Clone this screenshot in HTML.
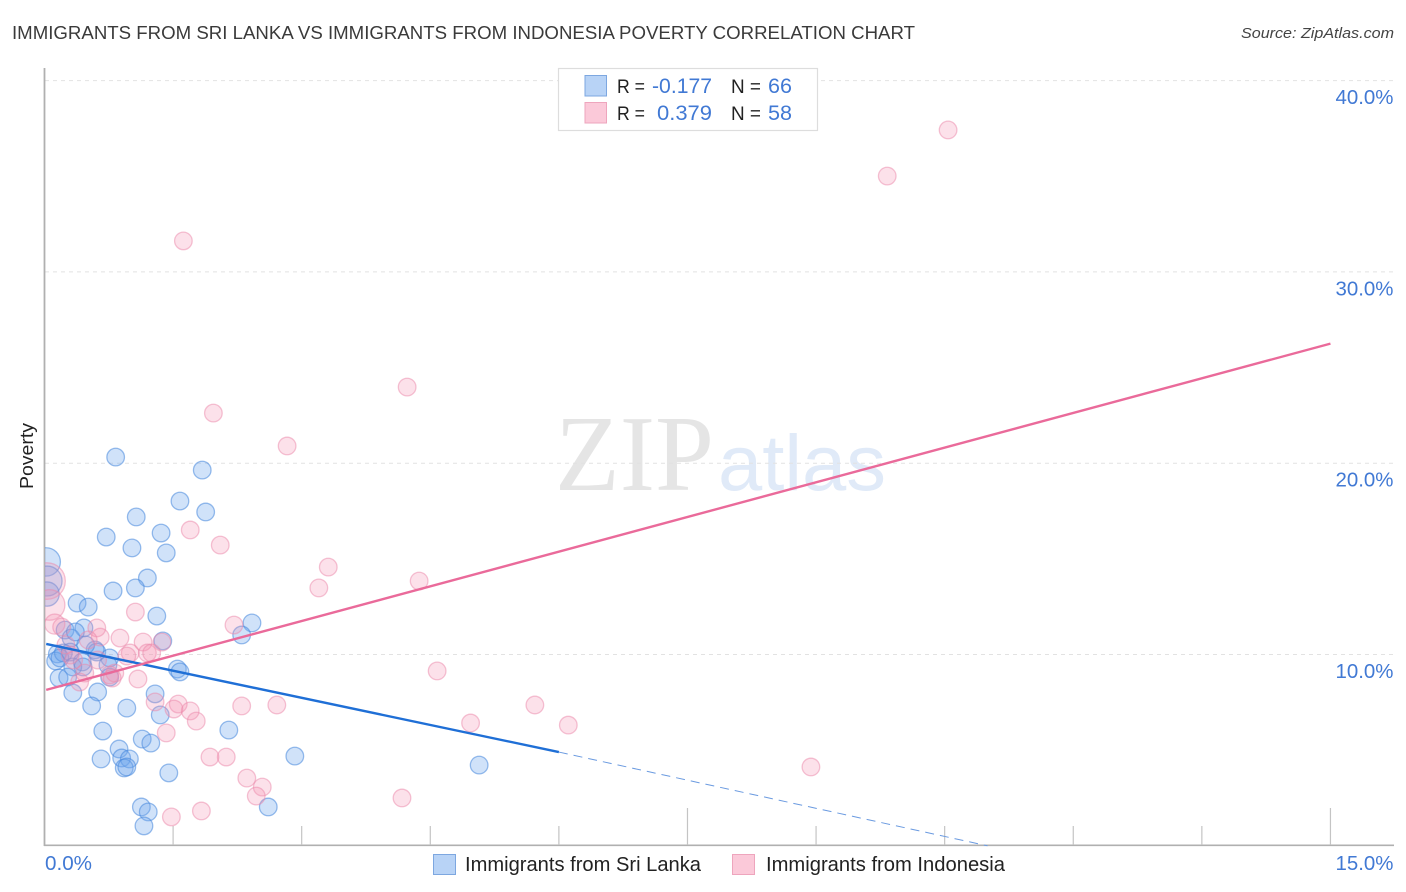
<!DOCTYPE html>
<html lang="en">
<head>
<meta charset="utf-8">
<title>Immigrants from Sri Lanka vs Immigrants from Indonesia Poverty Correlation Chart</title>
<style>
html,body{margin:0;padding:0;background:#fff;width:1406px;height:892px;overflow:hidden}
svg{display:block;font-family:"Liberation Sans",sans-serif}
</style>
</head>
<body>
<svg id="chart" width="1406" height="892" viewBox="0 0 1406 892" xmlns="http://www.w3.org/2000/svg">
  <defs>
    <clipPath id="plot-clip"><rect x="45" y="60" width="1350" height="786"></rect></clipPath>
  </defs>
  <text x="12" y="39" font-size="18" fill="#3a3a3a" textLength="903" lengthAdjust="spacingAndGlyphs">IMMIGRANTS FROM SRI LANKA VS IMMIGRANTS FROM INDONESIA POVERTY CORRELATION CHART</text>
  <text x="1394" y="38" font-size="15" font-style="italic" fill="#444" text-anchor="end" textLength="153" lengthAdjust="spacingAndGlyphs">Source: ZipAtlas.com</text>

  <g>
    <text x="555" y="490" font-family="'Liberation Serif',serif" font-size="108" fill="#e5e5e5" textLength="159" lengthAdjust="spacingAndGlyphs">ZIP</text>
    <text x="718" y="490" font-size="79" fill="#e0eaf8" textLength="168" lengthAdjust="spacingAndGlyphs">atlas</text>
  </g>

  <g id="grid"></g>
  <g id="axes"></g>
  <g id="marks" clip-path="url(#plot-clip)"></g>
  <g id="trends"></g>

  <text transform="translate(33,456) rotate(-90)" font-size="18" fill="#222" text-anchor="middle" textLength="66" lengthAdjust="spacingAndGlyphs">Poverty</text>

  <g>
    <rect x="558.5" y="68.5" width="259" height="62" fill="#fff" stroke="#ddd" stroke-width="1.2"></rect>
    <rect x="585" y="75.5" width="21.5" height="20.5" fill="#b8d3f6" stroke="#7da7e0" stroke-width="1"></rect>
    <rect x="585" y="102.5" width="21.5" height="20.5" fill="#fbc9d9" stroke="#eea5bd" stroke-width="1"></rect>
    <text x="617" y="93" font-size="19" fill="#222" textLength="28" lengthAdjust="spacingAndGlyphs">R =</text>
    <text x="652" y="93" font-size="21" fill="#4179d4" textLength="60" lengthAdjust="spacingAndGlyphs">-0.177</text>
    <text x="731" y="93" font-size="19" fill="#222" textLength="30" lengthAdjust="spacingAndGlyphs">N =</text>
    <text x="768" y="93" font-size="21" fill="#4179d4" textLength="24" lengthAdjust="spacingAndGlyphs">66</text>
    <text x="617" y="120" font-size="19" fill="#222" textLength="28" lengthAdjust="spacingAndGlyphs">R =</text>
    <text x="657" y="120" font-size="21" fill="#4179d4" textLength="55" lengthAdjust="spacingAndGlyphs">0.379</text>
    <text x="731" y="120" font-size="19" fill="#222" textLength="30" lengthAdjust="spacingAndGlyphs">N =</text>
    <text x="768" y="120" font-size="21" fill="#4179d4" textLength="24" lengthAdjust="spacingAndGlyphs">58</text>
  </g>

  <g>
    <rect x="433.5" y="854.5" width="22" height="20" fill="#b8d3f6" stroke="#7da7e0" stroke-width="1"></rect>
    <text x="465" y="871" font-size="20" fill="#222" textLength="236" lengthAdjust="spacingAndGlyphs">Immigrants from Sri Lanka</text>
    <rect x="732.5" y="854.5" width="22" height="20" fill="#fbc9d9" stroke="#eea5bd" stroke-width="1"></rect>
    <text x="766" y="871" font-size="20" fill="#222" textLength="239" lengthAdjust="spacingAndGlyphs">Immigrants from Indonesia</text>
  </g>
</svg>
<script>
// ---- chart data ----
var yTickValues = [10, 20, 30, 40];
var yTickLabels = ['10.0%', '20.0%', '30.0%', '40.0%'];
var xTickValues = [1.5, 3, 4.5, 6, 7.5, 9, 10.5, 12, 13.5, 15];
var xMajorTicks = [7.5, 15];
var xEndLabels = ['0.0%', '15.0%'];
var xEndValues = [0, 15];

var blueX = [0.02,0.03,0.03,0.83,1.84,1.58,1.88,1.07,0.72,1.36,1.02,1.42,1.20,1.06,0.80,1.31,0.38,0.51,2.42,2.30,1.38,0.46,0.24,0.31,0.36,0.15,0.13,0.22,0.18,0.30,0.59,0.61,0.76,0.74,0.76,0.44,0.33,0.45,0.17,0.27,0.33,0.62,0.55,0.96,1.55,1.58,1.29,1.35,2.15,2.92,5.07,0.68,0.66,0.87,0.90,0.99,0.93,0.96,1.14,1.24,1.45,1.13,1.21,1.16,2.61,0.48];
var blueY = [14.84,13.84,13.16,20.32,19.64,18.02,17.45,17.19,16.14,16.35,15.57,15.31,14.00,13.48,13.32,12.01,12.69,12.48,11.65,11.02,10.71,11.39,11.28,10.86,11.18,10.03,9.66,10.08,9.82,10.13,10.24,10.13,9.82,9.45,8.82,9.61,9.35,9.35,8.77,8.82,7.99,8.04,7.31,7.20,9.24,9.09,7.94,6.84,6.05,4.69,4.22,6.00,4.54,5.06,4.59,4.54,4.07,4.12,5.58,5.37,3.81,2.03,1.77,1.04,2.03,10.50];
var blueWeights = {0: 2.6, 1: 2.9, 2: 1.9};

var pinkX = [10.54,9.83,1.62,4.23,1.97,2.83,1.70,2.05,3.31,3.20,4.37,1.06,2.21,4.58,4.97,5.72,6.11,8.94,4.17,2.71,2.30,1.29,1.56,1.51,1.70,1.77,1.42,1.93,2.12,2.36,2.54,2.47,1.83,1.48,1.09,0.76,0.82,0.88,1.15,1.37,1.00,0.96,1.20,1.25,0.65,0.61,0.03,0.06,0.12,0.20,0.51,0.30,0.34,0.47,0.41,0.62,0.25,0.79];
var pinkY = [37.42,35.01,31.62,23.98,22.62,20.90,16.51,15.72,14.57,13.48,13.84,12.22,11.54,9.14,6.42,7.36,6.31,4.12,2.50,7.36,7.31,7.52,7.41,7.15,7.05,6.52,5.90,4.64,4.64,3.54,3.07,2.60,1.82,1.51,8.72,8.93,9.03,10.86,10.65,10.65,10.08,9.92,10.08,10.08,10.91,11.39,13.84,12.59,11.59,11.44,10.76,9.97,9.71,9.03,8.56,9.71,10.50,8.77];
var pinkWeights = {46: 4.3, 47: 3.0, 48: 1.3};

var blueTrendX = [0.02, 6.0];
var blueTrendY = [10.55, 4.9];
var blueDashX = [6.0, 11.0];
var blueDashY = [4.9, 0.0];
var pinkTrendX = [0.02, 15.0];
var pinkTrendY = [8.15, 26.25];

// ---- axis functions ----
function xScale(v) { return 44.5 + v * 85.73; }
function yScale(v) { return 845.8 - v * 19.13; }

var NS = 'http://www.w3.org/2000/svg';
function make(tag, attrs, parent) {
  var el = document.createElementNS(NS, tag);
  for (var k in attrs) el.setAttribute(k, attrs[k]);
  parent.appendChild(el);
  return el;
}

var grid = document.getElementById('grid');
var axes = document.getElementById('axes');
var marks = document.getElementById('marks');
var trends = document.getElementById('trends');

yTickValues.forEach(function (v, i) {
  var line = make('line', {x1: 45, x2: 1393, y1: yScale(v), y2: yScale(v), stroke: '#e2e2e2', 'stroke-width': 1, 'stroke-dasharray': '4 4'}, grid);
  
  
  var label = make('text', {x: 1393.5, y: yScale(v) + 23.5, 'font-size': 20, fill: '#4179d4', 'text-anchor': 'end', textLength: 58, lengthAdjust: 'spacingAndGlyphs'}, axes);
  
  
  label.textContent = yTickLabels[i];
});

var yAxisLine = make('line', {x1: 44.5, x2: 44.5, y1: 68, y2: 846, stroke: '#b0b0b0', 'stroke-width': 1.8}, axes);


var xAxisLine = make('line', {x1: 44, x2: 1394, y1: 845.3, y2: 845.3, stroke: '#b0b0b0', 'stroke-width': 1.6}, axes);



xTickValues.forEach(function (v) {
  var top = xMajorTicks.indexOf(v) >= 0 ? 808 : 826;
  var tick = make('line', {x1: xScale(v), x2: xScale(v), y1: top, y2: 845, stroke: '#c4c4c4', 'stroke-width': 1.2}, axes);
  
  
});

xEndValues.forEach(function (v, i) {
  var label = make('text', {x: i === 0 ? xScale(v) + 0.5 : 1393.5, y: 870, 'font-size': 20, fill: '#4179d4', 'text-anchor': i === 0 ? 'start' : 'end', textLength: i === 0 ? 47 : 58, lengthAdjust: 'spacingAndGlyphs'}, axes);
  
  
  label.textContent = xEndLabels[i];
});

blueX.forEach(function (v, i) {
  var c = make('circle', {cx: xScale(v), cy: yScale(blueY[i]), r: 8.8 * Math.sqrt(blueWeights[i] || 1), fill: 'rgba(110,165,235,0.32)', stroke: 'rgba(70,135,220,0.55)', 'stroke-width': 1.3}, marks);
  
  
});

pinkX.forEach(function (v, i) {
  var c = make('circle', {cx: xScale(v), cy: yScale(pinkY[i]), r: 8.8 * Math.sqrt(pinkWeights[i] || 1), fill: 'rgba(245,145,178,0.27)', stroke: 'rgba(235,135,170,0.5)', 'stroke-width': 1.3}, marks);
  
  
});

var blueDash = make('line', {x1: xScale(blueDashX[0]), y1: yScale(blueDashY[0]), x2: xScale(blueDashX[1]), y2: yScale(blueDashY[1]), stroke: '#6a9ae0', 'stroke-width': 1, 'stroke-dasharray': '9 6'}, trends);


var blueLine = make('line', {x1: xScale(blueTrendX[0]), y1: yScale(blueTrendY[0]), x2: xScale(blueTrendX[1]), y2: yScale(blueTrendY[1]), stroke: '#1f6fd6', 'stroke-width': 2.4}, trends);


var pinkLine = make('line', {x1: xScale(pinkTrendX[0]), y1: yScale(pinkTrendY[0]), x2: xScale(pinkTrendX[1]), y2: yScale(pinkTrendY[1]), stroke: '#ea6a9a', 'stroke-width': 2.4}, trends);


</script>
</body>
</html>
